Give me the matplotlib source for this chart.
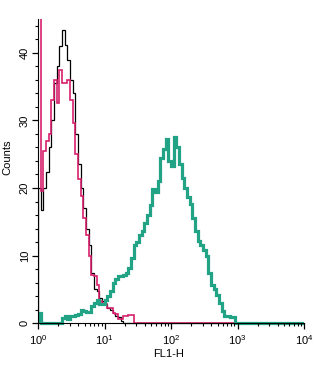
import numpy as np
import matplotlib
matplotlib.use("Agg")
import matplotlib.pyplot as plt
from matplotlib.ticker import LogLocator, MultipleLocator

plt.rcParams['font.family'] = ['Liberation Sans', 'DejaVu Sans']

# FL1-H 直方图：每格 0.04 个数量级，共 100 格 (10^0 ~ 10^4)
edges = np.logspace(0, 4, 101)

# 黑色（同型对照）
black_counts = [20, 16.7, 20, 22.3, 26, 30, 35.5, 38, 41, 43.4,
                41.2, 39, 36, 34, 28, 23.5, 20, 17, 14, 11.5,
                7.5, 5, 4.8, 3.8, 3.3, 2.8, 2.3, 2, 1.5, 1,
                0.9, 0.3] + [0] * 43
# 粉色（未染色）
pink_counts = [60, 19.5, 25.5, 27, 28, 33, 36, 32.5, 37.4, 35.5,
               35.5, 36, 33, 29.6, 25, 21.3, 18.8, 15.5, 13, 10,
               7.2, 7, 5.7, 3.3, 3, 2.8, 2.3, 2.2, 1.5, 1.3,
               0.6, 0.6, 1.1, 1.1, 1.2, 1.2] + [0] * 39
# 绿色（抗体染色）
teal_counts = [1.5, 0, 0, 0, 0, 0, 0, 0, 0, 0.8,
               1.0, 0.6, 1.0, 1.0, 1.2, 1.3, 1.9, 1.8, 1.6, 1.6,
               2.6, 3.0, 3.4, 2.8, 2.8, 3.4, 4.0, 4.8, 6.0, 6.5,
               7.0, 7.0, 7.2, 7.5, 8.2, 9.6, 11.5, 12, 13, 13.6,
               14.8, 16, 17.5, 19.8, 19.4, 21, 24.5, 25.8, 27.2, 24,
               23.2, 27.5, 26, 23.5, 21.5, 20, 18.6, 17.6, 15.5, 13.6,
               12.1, 11.5, 10.8, 10, 7.5, 5.7, 5.0, 4.2, 3.0, 1.8,
               1.0, 1.0, 0.9, 0.9] + [0] * 26

fig = plt.figure(figsize=(3.2, 3.65), dpi=100)
ax = fig.add_axes([0.119, 0.107, 0.831, 0.841])

n = len(black_counts)
ax.stairs(black_counts, edges[:n + 1], color='black', lw=0.9)
n = len(pink_counts)
ax.stairs(pink_counts, edges[:n + 1], color='#d8206c', lw=1.2)
ax.stairs(teal_counts, edges, color='#22a386', lw=2.3)

ax.set_xscale('log')
ax.set_xlim(1, 1e4)
ax.set_ylim(-0.4, 45)
ax.spines['bottom'].set_position(('data', 0))
ax.spines['left'].set_bounds(0, 45)
ax.spines['top'].set_visible(False)
ax.spines['right'].set_visible(False)

ax.yaxis.set_major_locator(MultipleLocator(10))
ax.yaxis.set_minor_locator(MultipleLocator(2))
ax.xaxis.set_major_locator(LogLocator(base=10))
ax.xaxis.set_minor_locator(LogLocator(base=10, subs=np.arange(2, 10)))
ax.tick_params(axis='both', which='major', length=4, width=0.9, labelsize=8)
ax.tick_params(axis='both', which='minor', length=2.5, width=0.8)
ax.tick_params(axis='y', labelrotation=90, pad=2)
for lab in ax.get_yticklabels():
    lab.set_va('center')

ax.set_xlabel("FL1-H", fontsize=8)
ax.set_ylabel("Counts", fontsize=8)
ax.xaxis.set_label_coords(0.49, -0.075)
ax.yaxis.set_label_coords(-0.095, 0.55)

plt.savefig("out.png", dpi=100)
